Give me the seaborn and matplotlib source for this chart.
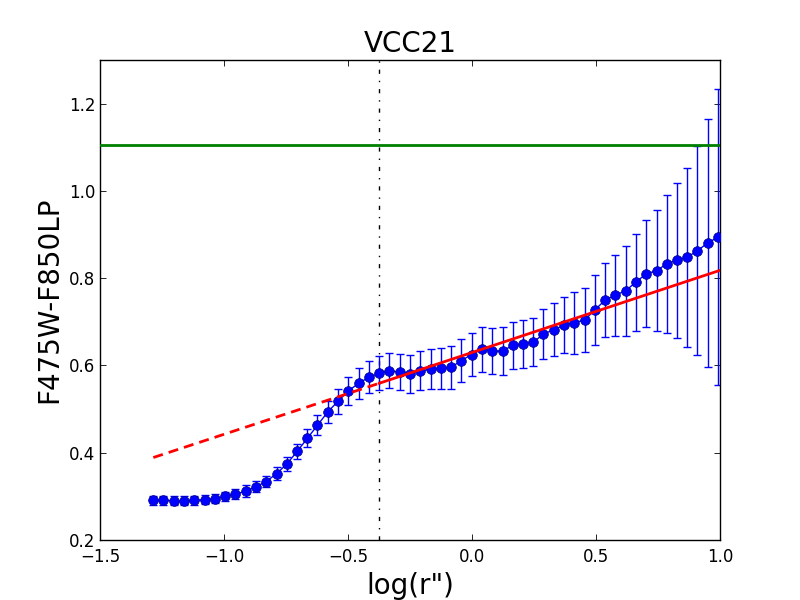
import numpy as np
import pandas as pd
import matplotlib
matplotlib.use("Agg")
import matplotlib.pyplot as plt
import seaborn as sns

# ---- data ----
log_r = [-1.285, -1.244, -1.202, -1.161, -1.119, -1.078, -1.037, -0.995, -0.954, -0.912,
         -0.871, -0.830, -0.788, -0.747, -0.705, -0.664, -0.623, -0.581, -0.540, -0.498,
         -0.457, -0.416, -0.374, -0.333, -0.291, -0.250, -0.209, -0.167, -0.126, -0.084,
         -0.043, -0.002, 0.040, 0.081, 0.123, 0.164, 0.205, 0.247, 0.288, 0.330,
         0.371, 0.412, 0.454, 0.495, 0.537, 0.578, 0.619, 0.661, 0.702, 0.744,
         0.785, 0.826, 0.868, 0.909, 0.951, 0.992]
color = [0.291, 0.291, 0.290, 0.290, 0.291, 0.292, 0.295, 0.300, 0.305, 0.312,
         0.322, 0.334, 0.352, 0.374, 0.403, 0.433, 0.463, 0.494, 0.518, 0.542,
         0.559, 0.573, 0.582, 0.588, 0.585, 0.581, 0.588, 0.591, 0.594, 0.596,
         0.611, 0.625, 0.637, 0.633, 0.633, 0.646, 0.650, 0.653, 0.672, 0.682,
         0.692, 0.698, 0.704, 0.727, 0.750, 0.761, 0.771, 0.791, 0.810, 0.817,
         0.833, 0.841, 0.848, 0.863, 0.881, 0.894]
color_err = [0.010, 0.010, 0.010, 0.010, 0.010, 0.010, 0.011, 0.011, 0.012, 0.013,
             0.013, 0.013, 0.015, 0.017, 0.017, 0.021, 0.023, 0.025, 0.029, 0.032,
             0.035, 0.037, 0.039, 0.040, 0.041, 0.044, 0.045, 0.046, 0.047, 0.049,
             0.049, 0.050, 0.052, 0.052, 0.054, 0.054, 0.055, 0.055, 0.057, 0.061,
             0.064, 0.071, 0.074, 0.080, 0.085, 0.093, 0.103, 0.111, 0.123, 0.139,
             0.158, 0.178, 0.205, 0.240, 0.284, 0.339]

fit_dash_x = [-1.285, -0.375]
fit_dash_y = [0.389, 0.559]
fit_solid_x = [-0.375, 1.0]
fit_solid_y = [0.559, 0.818]

green_level = 1.105
break_radius = -0.375

title = "VCC21"
xlabel = "log(r\")"
ylabel = "F475W-F850LP"
xticks = [-1.5, -1.0, -0.5, 0.0, 0.5, 1.0]
yticks = [0.2, 0.4, 0.6, 0.8, 1.0, 1.2]

# ---- style ----
sns.set_style("white")
plt.rcParams.update({
    "font.family": ["DejaVu Sans"],
    "text.color": "black", "axes.labelcolor": "black",
    "xtick.direction": "in", "ytick.direction": "in",
    "xtick.top": True, "ytick.right": True,
    "xtick.bottom": True, "ytick.left": True,
    "xtick.major.size": 4, "ytick.major.size": 4,
    "xtick.major.width": 0.6, "ytick.major.width": 0.6,
    "xtick.labelsize": 12, "ytick.labelsize": 12,
    "axes.edgecolor": "black", "axes.linewidth": 1.0,
    "xtick.color": "black", "ytick.color": "black",
})

fig = plt.figure(figsize=(8, 6), dpi=100)
ax = fig.add_axes([0.125, 0.1, 0.775, 0.8])

df = pd.DataFrame({"log_r": log_r, "color": color, "err": color_err})

ax.errorbar(df["log_r"], df["color"], yerr=df["err"], fmt="none",
            ecolor="#0000ff", elinewidth=1.0, capsize=3, capthick=1.0, zorder=2)
sns.lineplot(data=df, x="log_r", y="color", ax=ax, color="#0000ff", linewidth=1.0,
             marker="o", markersize=7, markerfacecolor="#0000ff",
             markeredgecolor="#000080", markeredgewidth=0.5, zorder=3,
             sort=False, estimator=None)

sns.lineplot(x=fit_dash_x, y=fit_dash_y, ax=ax, color="#ff0000", linewidth=2,
             dashes=False, zorder=4).lines[-1].set_dashes((3.6, 2.2))
sns.lineplot(x=fit_solid_x, y=fit_solid_y, ax=ax, color="#ff0000", linewidth=2,
             zorder=4)
ax.axhline(green_level, color="#008000", linewidth=2, zorder=4)
ax.axvline(break_radius, color="black", linewidth=1, dashes=(3, 5, 1, 5), zorder=1)

ax.set_xlim(-1.5, 1.0)
ax.set_ylim(0.2, 1.3)
ax.set_xticks(xticks)
ax.set_yticks(yticks)
ax.set_xticklabels([f"{v:.1f}".replace("-", "\u2212") for v in xticks])
ax.set_yticklabels([f"{v:.1f}" for v in yticks])
ax.tick_params(axis="x", pad=6)
ax.set_title(title, fontsize=20, color="black")
ax.set_xlabel(xlabel, fontsize=20, color="black")
ax.set_ylabel(ylabel, fontsize=20, color="black")
for s in ax.spines.values():
    s.set_visible(True)
    s.set_color("black")

fig.savefig("out.png", dpi=100)
